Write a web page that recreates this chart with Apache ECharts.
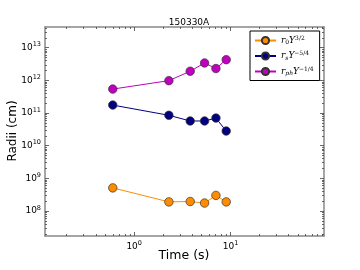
<!DOCTYPE html>
<html><head><meta charset="utf-8">
<script src="https://cdn.jsdelivr.net/npm/echarts@6/dist/echarts.min.js"></script>
<style>html,body{margin:0;padding:0;background:#fff}#c{width:360px;height:270px}</style>
</head><body><div id="c"></div>
<script>
const times = [0.6, 2.29, 3.81, 5.37, 7.04, 9.0];
const r0 = [5.1e8, 1.9e8, 1.95e8, 1.75e8, 3.0e8, 1.9e8];
const rs = [1.75e11, 8.5e10, 5.7e10, 5.7e10, 7.0e10, 2.8e10];
const rph = [5.4e11, 9.8e11, 1.9e12, 3.4e12, 2.3e12, 4.3e12];
const xTickLabels = [1, 10];
const yTickLabels = [1e8, 1e9, 1e10, 1e11, 1e12, 1e13];
const xRange = [0.119, 92.9];
const yRange = [1.714e7, 4.3e13];
const xName = 'Time (s)';
const yName = 'Radii (cm)';

function minorTicks(lo, hi) {
  const out = [];
  for (let e = Math.floor(Math.log10(lo)); e <= Math.ceil(Math.log10(hi)); e++) {
    for (let m = 2; m <= 9; m++) {
      const v = m * Math.pow(10, e);
      if (v > lo && v < hi) out.push(v);
    }
  }
  return out;
}
const xMinor = minorTicks(xRange[0], xRange[1]);
const yMinor = minorTicks(yRange[0], yRange[1]);
const xMajor = [0.1, 1, 10, 100].filter(v => v > xRange[0] && v < xRange[1]);

const spine = {show: true, lineStyle: {color: '#888', width: 1.5}};
const tickColor = '#444';
const fmt = v => '{b|10}{s|' + Math.round(Math.log10(v)) + '}';
const rich = {
  b: {fontSize: 9, fontFamily: 'DejaVu Sans', color: '#000'},
  s: {fontSize: 6.5, fontFamily: 'DejaVu Sans', color: '#000', padding: [0, 0, 6, 0]}
};

function xAx(pos, major, showLine, showLabel) {
  return {
    type: 'log', logBase: 10, min: xRange[0], max: xRange[1], position: pos,
    axisLine: showLine ? spine : {show: false},
    splitLine: {show: false},
    axisTick: {show: true, inside: true, length: major ? 4 : 2, lineStyle: {color: tickColor, width: 0.8},
      customValues: major ? xMajor : xMinor},
    axisLabel: showLabel ? {show: true, customValues: xTickLabels, formatter: fmt, rich: rich, margin: 4} : {show: false}
  };
}
function yAx(pos, major, showLine, showLabel) {
  return {
    type: 'log', logBase: 10, min: yRange[0], max: yRange[1], position: pos,
    axisLine: showLine ? spine : {show: false},
    splitLine: {show: false},
    axisTick: {show: true, inside: true, length: major ? 4 : 2, lineStyle: {color: tickColor, width: 0.8},
      customValues: major ? yTickLabels : yMinor},
    axisLabel: showLabel ? {show: true, customValues: yTickLabels, formatter: fmt, rich: rich, margin: 4} : {show: false}
  };
}

const legRich = {
  i: {fontFamily: 'DejaVu Serif', fontStyle: 'italic', fontSize: 9, color: '#000'},
  sub: {fontFamily: 'DejaVu Serif', fontStyle: 'italic', fontSize: 6, color: '#000', padding: [4, 0, 0, 0]},
  subn: {fontFamily: 'DejaVu Serif', fontSize: 6, color: '#000', padding: [4, 0, 0, 0]},
  sup: {fontFamily: 'DejaVu Serif', fontSize: 6, color: '#000', padding: [0, 0, 5, 0]}
};
const legText = {
  'r0': '{i|r}{subn|0}{i|Y}{sup|3/2}',
  'rs': '{i|r}{sub|s}{i|Y}{sup|−5/4}',
  'rph': '{i|r}{sub|ph}{i|Y}{sup|−1/4}'
};

function ser(name, vals, color, top) {
  return {
    name: name, type: 'line', xAxisIndex: 0, yAxisIndex: 0,
    data: times.map((t, i) => [t, vals[i]]),
    symbol: 'circle', symbolSize: 8.5,
    itemStyle: {color: color, borderColor: '#333', borderWidth: 0.7},
    lineStyle: {color: color, width: 1},
    emphasis: {disabled: true}, animation: false, z: top
  };
}

const chart = echarts.init(document.getElementById('c'), null, {renderer: 'canvas'});
chart.setOption({
  animation: false,
  title: {text: '150330A', left: 184, top: 13, textAlign: 'center',
    textStyle: {fontSize: 9, fontWeight: 'normal', fontFamily: 'DejaVu Sans', color: '#000'}},
  grid: {left: 45, top: 27, right: 36, bottom: 34, containLabel: false, outerBoundsMode: 'none'},
  xAxis: [xAx('bottom', true, true, true), xAx('bottom', false, false, false), xAx('top', true, true, false), xAx('top', false, false, false)],
  yAxis: [yAx('left', true, true, true), yAx('left', false, false, false), yAx('right', true, true, false), yAx('right', false, false, false)],
  legend: {
    left: 250, top: 31, orient: 'vertical', itemWidth: 21, itemHeight: 9, itemGap: 5,
    padding: [4, 6, 4, 4], borderColor: '#000', borderWidth: 1, backgroundColor: '#fff',
    formatter: n => legText[n], textStyle: {rich: legRich, fontSize: 9},
    data: ['r0', 'rs', 'rph']
  },
  graphic: [
    {type: 'text', x: 184, y: 256, style: {text: xName, align: 'center', verticalAlign: 'middle',
      font: '12.5px "DejaVu Sans"', fill: '#000'}},
    {type: 'text', x: 13, y: 131, rotation: Math.PI / 2, style: {text: yName, align: 'center', verticalAlign: 'middle',
      font: '12px "DejaVu Sans"', fill: '#000'}}
  ],
  series: [ser('r0', r0, '#ff8c00', 3), ser('rs', rs, '#000080', 4), ser('rph', rph, '#bf00bf', 5)]
});
</script></body></html>
